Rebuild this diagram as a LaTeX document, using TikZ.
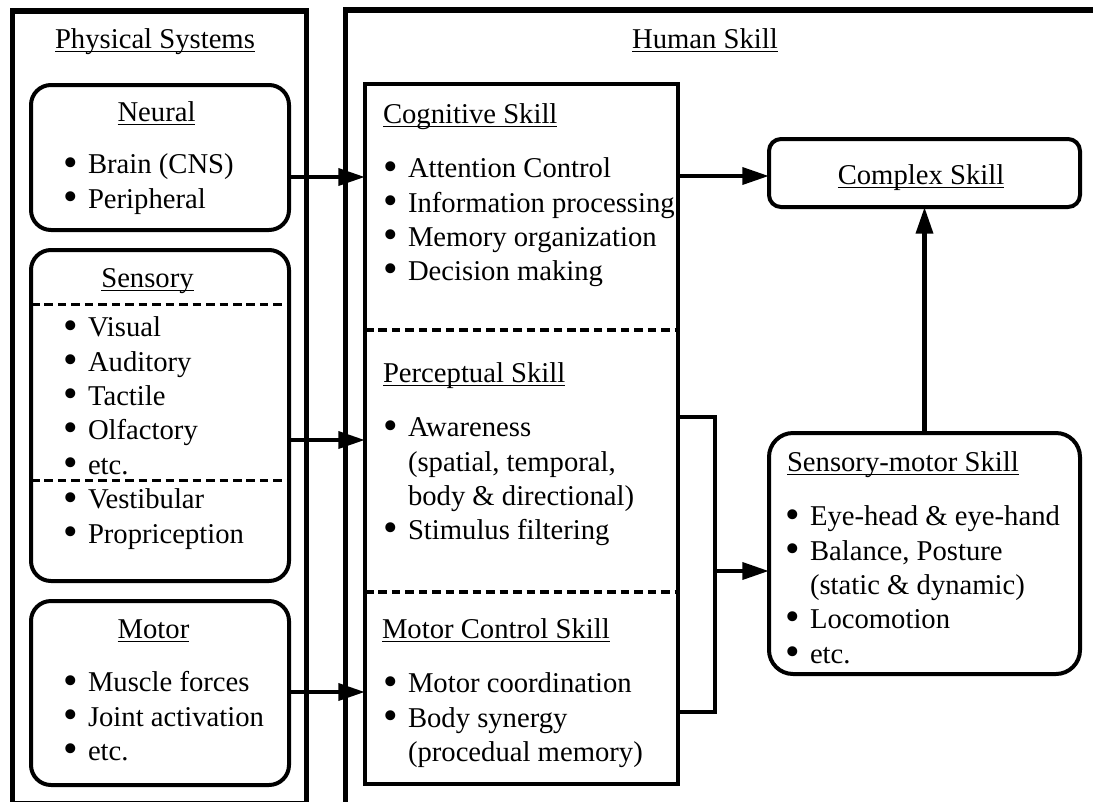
\documentclass[tikz,border=0pt]{standalone}
\usepackage{fontspec}
\setmainfont{Liberation Serif}
\usepackage{graphicx}
\usetikzlibrary{arrows.meta}

% underlined heading with the rule set close under the baseline
\newcommand\ulx[1]{\setbox0=\hbox{#1}\rlap{\rule[-3.3pt]{\wd0}{1pt}}\box0}
% bullet and hanging indent for list lines
\newcommand\bul{\makebox[18.75pt][l]{\raisebox{-1.6pt}{\scalebox{1.45}{\textbullet}}}\strut}
\newcommand\hang{\hspace*{18.75pt}\strut}

\tikzset{
  every node/.style={font=\fontsize{21.5pt}{25.7pt}\selectfont, inner sep=0pt, outer sep=0pt},
  frame/.style={draw, line width=4.1pt},
  roundbox/.style={draw, line width=3pt, rounded corners=15pt},
  plainbox/.style={draw, line width=3pt},
  heading/.style={anchor=base},
  lheading/.style={anchor=base west},
  listtext/.style={anchor=north west, align=left},
  arr/.style={line width=3.4pt, -{Triangle[length=20pt,width=12.5pt]}},
  link/.style={line width=2.4pt},
  divider/.style={line width=2.3pt, dash pattern=on 6.4pt off 3.7pt},
}

\begin{document}
\begin{tikzpicture}[x=0.75pt,y=-0.75pt]
\useasboundingbox (0,0) rectangle (1093,801);
\clip (0,0) rectangle (1093,801);

% the two outer panels
\draw[frame] (12.5,11) rectangle (306.5,804);
\draw[frame] (345.5,900) |- (1200,10);

\node[heading] (tphys) at (155,48) {\ulx{Physical Systems}};
\node[heading] (thum) at (705,48) {\ulx{Human Skill}};

% physical systems
\node[roundbox, minimum width=193.5pt, minimum height=108.75pt] (neural) at (160,157.5) {};
\node[roundbox, minimum width=193.5pt, minimum height=248.25pt] (sens) at (160,415.5) {};
\node[roundbox, minimum width=193.5pt, minimum height=138pt] (motor) at (160,693) {};

\node[heading] (tneural) at (156.5,121) {\ulx{Neural}};
\node[listtext] (lneural) at (63,150) {\bul Brain (CNS)\\ \bul Peripheral};

\node[heading] (tsens) at (147.5,287) {\ulx{Sensory}};
\coordinate (sd1) at (0,304.5);
\coordinate (sd2) at (0,480.5);
\draw[divider] (sens.west |- sd1) -- (sens.east |- sd1);
\draw[divider] (sens.west |- sd2) -- (sens.east |- sd2);
\node[listtext] (lsens) at (63,313) {\bul Visual\\ \bul Auditory\\ \bul Tactile\\ \bul Olfactory\\ \bul etc.};
\node[listtext] (lsens2) at (63,485) {\bul Vestibular\\ \bul Propriception};

\node[heading] (tmotor) at (153.5,638) {\ulx{Motor}};
\node[listtext] (lmotor) at (63,668) {\bul Muscle forces\\ \bul Joint activation\\ \bul etc.};

% human skill column
\node[plainbox, minimum width=234.75pt, minimum height=525pt] (hs) at (521.5,434) {};
\coordinate (hd1) at (0,330);
\coordinate (hd2) at (0,592);
\draw[divider] (hs.west |- hd1) -- (hs.east |- hd1);
\draw[divider] (hs.west |- hd2) -- (hs.east |- hd2);

\node[lheading] (tcog) at (383,123) {\ulx{Cognitive Skill}};
\node[listtext] (lcog) at (383,154) {\bul Attention Control\\ \bul Information processing\\ \bul Memory organization\\ \bul Decision making};

\node[lheading] (tperc) at (383,382) {\ulx{Perceptual Skill}};
\node[listtext] (lperc) at (383,413) {\bul Awareness\\ \hang(spatial, temporal,\\ \hang body \& directional)\\ \bul Stimulus filtering};

\node[lheading] (tmc) at (382,638) {\ulx{Motor Control Skill}};
\node[listtext] (lmc) at (383,669) {\bul Motor coordination\\ \bul Body synergy\\ \hang(procedual memory)};

% complex and sensory-motor skill
\node[roundbox, rounded corners=9pt, minimum width=233.25pt, minimum height=51pt] (cx) at (924.5,173) {};
\node[heading] (tcx) at (921,184) {\ulx{Complex Skill}};

\node[roundbox, rounded corners=18pt, minimum width=233.25pt, minimum height=180.75pt] (sm) at (924.5,553.5) {};
\node[lheading] (tsm) at (787,471) {\ulx{Sensory-motor Skill}};
\node[listtext] (lsm) at (785,502) {\bul Eye-head \& eye-hand\\ \bul Balance, Posture\\ \hang(static \& dynamic)\\ \bul Locomotion\\ \bul etc.};

% connectors
\coordinate (an) at (0,177);
\coordinate (as) at (0,440);
\coordinate (am) at (0,692);
\draw[arr] (neural.east |- an) -- (hs.west |- an);
\draw[arr] (sens.east |- as) -- (hs.west |- as);
\draw[arr] (motor.east |- am) -- (hs.west |- am);

\coordinate (ac) at (0,176);
\draw[arr] (hs.east |- ac) -- (cx.west |- ac);

\coordinate (bt) at (715,417);
\coordinate (bb) at (715,712);
\coordinate (bm) at (715,571);
\draw[link] (hs.east |- bt) -- (bt) -- (bb) -- (hs.east |- bb);
\draw[arr] (bm) -- (sm.west |- bm);

\draw[arr] (sm.north) -- (cx.south);
\end{tikzpicture}
\end{document}
